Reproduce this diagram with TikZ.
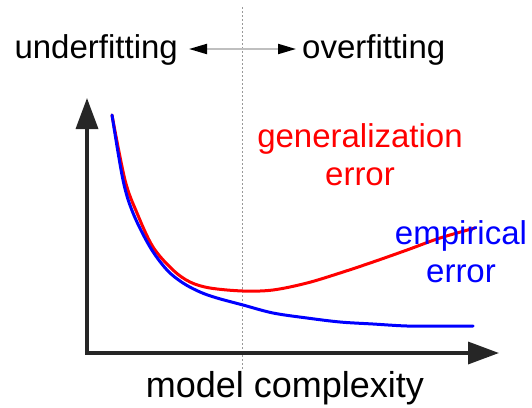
\documentclass[tikz,border=0pt]{standalone}
\usepackage{fontspec}
\setmainfont{Liberation Sans}
\usetikzlibrary{arrows.meta}
\begin{document}
\begin{tikzpicture}[x=1pt,y=-1pt,
  axis/.style={line width=3.5pt,draw=black!85,-{Triangle[length=31pt,width=22pt]}},
  curve/.style={line width=3pt,line cap=round},
  label/.style={inner sep=0pt,font=\fontsize{33}{38}\selectfont},
  divider/.style={draw=black!40,line width=1pt,dash pattern=on 2pt off 2pt},
  pointer/.style={draw=black!25,line width=2pt,
    {Triangle[length=18pt,width=10pt,black]}-{Triangle[length=18pt,width=10pt,black]}}]
\useasboundingbox (0,0) rectangle (532,407);

% dividing line between the two regimes
\coordinate (dtop) at (242,7);
\coordinate (dbot) at (242,370);
\draw[divider] (dtop) -- (dbot);

% regime labels with the double arrow
\node[label,anchor=base east] (uf) at (178,58) {underfitting};
\node[label,anchor=base west] (of) at (302,58) {overfitting};
\coordinate (la) at (189,49);
\coordinate (ra) at (296,49);
\draw[pointer] (la) -- (ra);

% axes
\coordinate (O) at (87,353);
\coordinate (ytip) at (87,98);
\coordinate (xtip) at (499,353);
\draw[axis] (O) -- (ytip);
\draw[axis] ([xshift=-1.75pt]O) -- (xtip);

% generalization error
\draw[curve,red] plot[smooth,tension=0.55] coordinates {
  (112,115) (125,180) (137,213) (153,247) (173,270)
  (190,282) (210,288) (243,291) (273,290) (307,283) (340,273) (373,262)
  (407,250) (440,238) (475,228)};

% empirical error
\draw[curve,blue] plot[smooth,tension=0.55] coordinates {
  (112,115) (123,180) (133,213) (150,247) (167,270)
  (183,283) (200,292) (217,298) (243,305) (273,313) (307,318) (340,322)
  (373,324) (407,326) (440,326) (473,326)};

% curve labels
\node[label,red,align=center,anchor=base] (gen) at (360,185)
  {generalization\\error};
\node[label,blue,align=center,anchor=base] (emp) at (461,282)
  {empirical\\error};

% horizontal axis label
\node[inner sep=0pt,anchor=base,font=\fontsize{36}{40}\selectfont] (mc) at (285,397)
  {model complexity};
\end{tikzpicture}
\end{document}
